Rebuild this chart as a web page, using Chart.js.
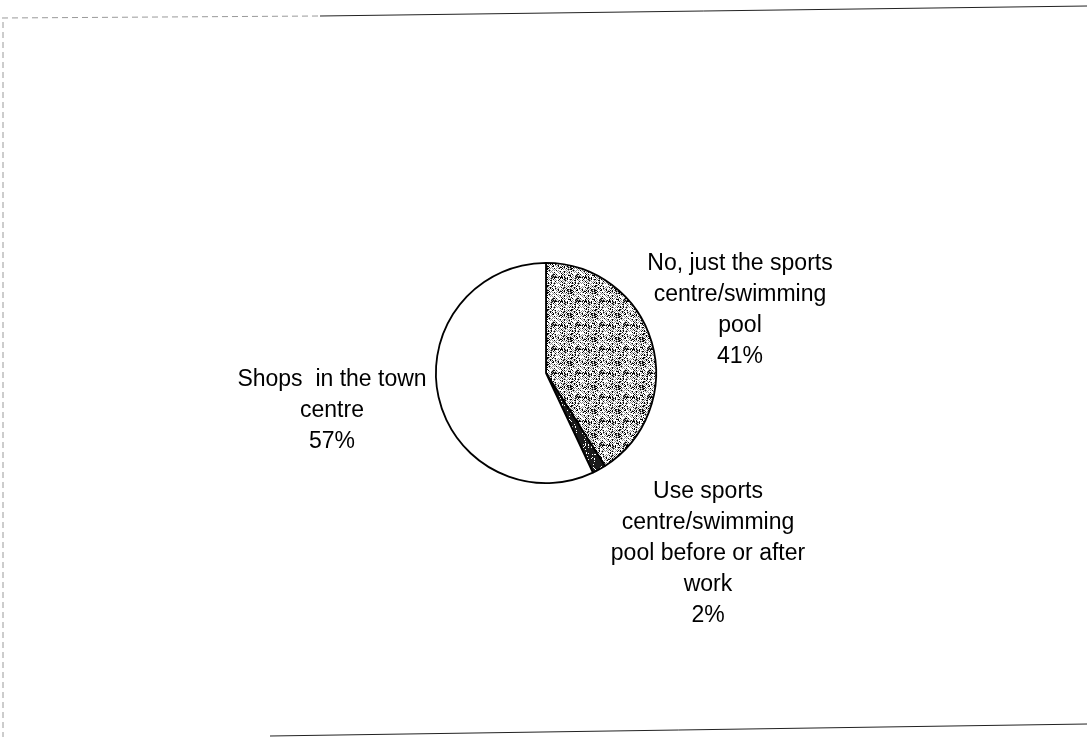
<!DOCTYPE html>
<html>
<head>
<meta charset="utf-8">
<script src="https://cdn.jsdelivr.net/npm/chart.js@4/dist/chart.umd.min.js"></script>
<style>
  html, body { margin: 0; padding: 0; background: #fff; }
  canvas { display: block; }
</style>
</head>
<body>
<canvas id="out" width="1087" height="737"></canvas>
<script>
// slices, clockwise from 12 o'clock
const categories = [
  "No, just the sports centre/swimming pool",
  "Use sports centre/swimming pool before or after work",
  "Shops in the town centre"
];
const shares = [41, 2, 57];
// label text as printed, line by line (the % line is added from shares)
const labelLines = [
  ["No, just the sports", "centre/swimming", "pool"],
  ["Use sports", "centre/swimming", "pool before or after", "work"],
  ["Shops  in the town", "centre"]
];

// where each label block sits, relative to the pie centre
const labelOffsets = [[194, -63], [162, 181], [-214, 38]];

function stipple(dark) {
  const c = document.createElement("canvas");
  c.width = 24; c.height = 24;
  const g = c.getContext("2d");
  g.fillStyle = dark ? "#1a1a1a" : "#ffffff";
  g.fillRect(0, 0, 24, 24);
  for (let y = 0; y < 24; y++) {
    for (let x = 0; x < 24; x++) {
      const h = ((x * 37 + y * 61) ^ (x * y * 13)) % 11;
      if (dark) {
        if (h === 0) { g.fillStyle = "#ffffff"; g.fillRect(x, y, 1, 1); }
      } else {
        if (h < 2) { g.fillStyle = "#000000"; g.fillRect(x, y, 1, 1); }
        else if ((x + y) % 2 === 0 && h < 8) { g.fillStyle = "#8a8a8a"; g.fillRect(x, y, 1, 1); }
      }
    }
  }
  return g.createPattern(c, "repeat");
}

// scanned page frame
const framePlugin = {
  id: "frame",
  beforeDraw(chart) {
    const ctx = chart.ctx;
    ctx.save();
    ctx.fillStyle = "#fff";
    ctx.fillRect(0, 0, chart.width, chart.height);
    ctx.lineWidth = 1;
    ctx.strokeStyle = "#9a9a9a";
    ctx.setLineDash([6, 4]);
    ctx.beginPath();
    ctx.moveTo(2, 18); ctx.lineTo(320, 16);
    ctx.moveTo(3, 22); ctx.lineTo(3, 737);
    ctx.stroke();
    ctx.setLineDash([]);
    ctx.strokeStyle = "#222";
    ctx.beginPath();
    ctx.moveTo(320, 16); ctx.lineTo(1087, 6);
    ctx.moveTo(270, 736); ctx.lineTo(1087, 724);
    ctx.stroke();
    ctx.restore();
  }
};

const labelPlugin = {
  id: "sliceLabels",
  afterDraw(chart) {
    const ctx = chart.ctx;
    const arcs = chart.getDatasetMeta(0).data;
    ctx.save();
    ctx.font = '23px "Liberation Sans", Arial, sans-serif';
    ctx.fillStyle = "#000";
    ctx.textAlign = "center";
    ctx.textBaseline = "middle";
    const lineH = 31;
    arcs.forEach((arc, i) => {
      const lines = labelLines[i].concat(shares[i] + "%");
      const cx = arc.x + labelOffsets[i][0];
      const cy = arc.y + labelOffsets[i][1];
      lines.forEach((t, k) => {
        ctx.fillText(t, cx, cy + (k - (lines.length - 1) / 2) * lineH);
      });
    });
    ctx.restore();
  }
};

const ctx = document.getElementById("out").getContext("2d");
new Chart(ctx, {
  type: "pie",
  data: {
    labels: categories,
    datasets: [{
      data: shares,
      backgroundColor: [stipple(false), stipple(true), "#ffffff"],
      borderColor: "#000",
      borderWidth: 1.8
    }]
  },
  options: {
    responsive: false,
    animation: false,
    layout: { padding: { left: 435, right: 430, top: 262, bottom: 253 } },
    plugins: {
      legend: { display: false },
      tooltip: { enabled: false }
    }
  },
  plugins: [framePlugin, labelPlugin]
});
</script>
</body>
</html>
